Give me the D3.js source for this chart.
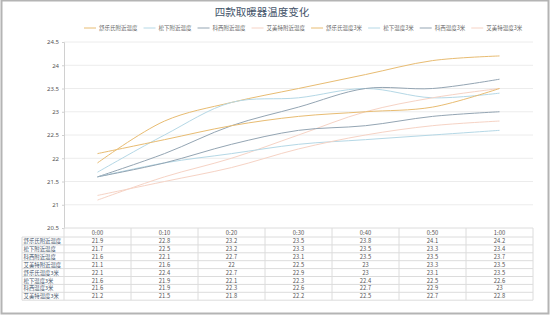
<!DOCTYPE html>
<html lang="zh">
<head>
  <meta charset="UTF-8">
  <title>四款取暖器温度变化</title>
  <script src="https://d3js.org/d3.v7.min.js"></script>
  <style>
    body { margin: 0; padding: 0; background: #fff; font-family: 'Noto Sans CJK SC', 'Noto Sans', sans-serif; }
  </style>
</head>
<body>
  <svg id="chart"></svg>
  <script>
    // data
    const times = ["0:00", "0:10", "0:20", "0:30", "0:40", "0:50", "1:00"];
    const seriesNames = ["舒乐氏附近温度", "松下附近温度", "科西附近温度", "艾美特附近温度",
                         "舒乐氏温度3米", "松下温度3米", "科西温度3米", "艾美特温度3米"];
    const shuleNear = [21.9, 22.8, 23.2, 23.5, 23.8, 24.1, 24.2];
    const songxiaNear = [21.7, 22.5, 23.2, 23.3, 23.5, 23.3, 23.4];
    const kexiNear = [21.6, 22.1, 22.7, 23.1, 23.5, 23.5, 23.7];
    const aimeiteNear = [21.1, 21.6, 22, 22.5, 23, 23.3, 23.5];
    const shule3m = [22.1, 22.4, 22.7, 22.9, 23, 23.1, 23.5];
    const songxia3m = [21.6, 21.9, 22.1, 22.3, 22.4, 22.5, 22.6];
    const kexi3m = [21.6, 21.9, 22.3, 22.6, 22.7, 22.9, 23];
    const aimeite3m = [21.2, 21.5, 21.8, 22.2, 22.5, 22.7, 22.8];
    const yTicks = [20.5, 21, 21.5, 22, 22.5, 23, 23.5, 24, 24.5];

    const values = [shuleNear, songxiaNear, kexiNear, aimeiteNear, shule3m, songxia3m, kexi3m, aimeite3m];
    const colors = ["#e8bc72", "#b5d8e6", "#94a5b3", "#f6d3c5", "#e8bc72", "#b5d8e6", "#94a5b3", "#f6d3c5"];

    const W = 553, H = 319;
    const svg = d3.select("#chart").attr("width", W).attr("height", H);

    // outer frame
    svg.append("rect").attr("x", 1.5).attr("y", 0.5).attr("width", 547).attr("height", 313)
       .attr("fill", "#fff").attr("stroke", "#b4b4b4").attr("stroke-width", 2);

    // title
    svg.append("text").attr("x", 262).attr("y", 16).attr("text-anchor", "middle")
       .attr("font-size", 10.5).attr("fill", "#44546a").text("四款取暖器温度变化");

    const plotLeft = 64, plotRight = 533, plotTop = 42, plotBottom = 228;
    const band = d3.scaleBand().domain(times).range([plotLeft, plotRight]);
    const x = t => band(t) + band.bandwidth() / 2;
    const y = d3.scaleLinear().domain([20.5, 24.5]).range([plotBottom, plotTop]);

    // legend
    const legend = svg.append("g").attr("font-size", 5.5).attr("fill", "#666");
    let lx = 84;
    seriesNames.forEach((name, i) => {
      legend.append("line").attr("x1", lx).attr("x2", lx + 12).attr("y1", 28).attr("y2", 28)
            .attr("stroke", colors[i]).attr("stroke-width", 1);
      const t = legend.append("text").attr("x", lx + 15).attr("y", 30).text(name);
      lx += 15 + t.node().getComputedTextLength() + 6;
    });

    // grid + y axis
    svg.append("g").selectAll("line").data(yTicks.slice(1)).join("line")
       .attr("x1", plotLeft).attr("x2", plotRight).attr("y1", d => y(d)).attr("y2", d => y(d))
       .attr("stroke", "#ececec");
    const yAxis = svg.append("g").attr("transform", `translate(${plotLeft},0)`)
       .call(d3.axisLeft(y).tickValues(yTicks).tickSize(2).tickFormat(d3.format("")));
    yAxis.select(".domain").attr("stroke", "#d0d0d0");
    yAxis.selectAll(".tick line").attr("stroke", "#d0d0d0");
    yAxis.selectAll("text").attr("font-size", 6).attr("fill", "#555").attr("font-family", "'Noto Sans', sans-serif");

    // lines
    const line = d3.line().x((d, i) => x(times[i])).y(d => y(d)).curve(d3.curveCatmullRom.alpha(0.5));
    svg.append("g").selectAll("path").data(values).join("path")
       .attr("d", line).attr("fill", "none")
       .attr("stroke", (d, i) => colors[i]).attr("stroke-width", 1);

    // data table
    const tbl = svg.append("g").attr("font-size", 5.4).attr("fill", "#44546a");
    const headH = 9, rowH = 7.9, labelLeft = 22;
    const rowTop = plotBottom + headH;
    const tableBottom = rowTop + rowH * seriesNames.length;
    const gridColor = "#dcdcdc";
    tbl.append("line").attr("x1", plotLeft).attr("x2", plotRight).attr("y1", plotBottom).attr("y2", plotBottom).attr("stroke", gridColor);
    d3.range(seriesNames.length + 1).forEach(r => {
      tbl.append("line").attr("x1", labelLeft).attr("x2", plotRight)
         .attr("y1", rowTop + r * rowH).attr("y2", rowTop + r * rowH).attr("stroke", gridColor);
    });
    tbl.append("line").attr("x1", labelLeft).attr("x2", labelLeft).attr("y1", rowTop).attr("y2", tableBottom).attr("stroke", gridColor);
    times.forEach(t => {
      tbl.append("line").attr("x1", band(t)).attr("x2", band(t)).attr("y1", plotBottom).attr("y2", tableBottom).attr("stroke", gridColor);
    });
    tbl.append("line").attr("x1", plotRight).attr("x2", plotRight).attr("y1", plotBottom).attr("y2", tableBottom).attr("stroke", gridColor);

    times.forEach(t => {
      tbl.append("text").attr("x", x(t)).attr("y", plotBottom + 7).attr("text-anchor", "middle")
         .attr("fill", "#555").attr("font-size", 5.8).text(t);
    });
    seriesNames.forEach((name, r) => {
      const cy = rowTop + r * rowH + 6;
      tbl.append("text").attr("x", labelLeft + 1.5).attr("y", cy).text(name);
      values[r].forEach((v, c) => {
        tbl.append("text").attr("x", x(times[c])).attr("y", cy).attr("text-anchor", "middle")
           .attr("fill", "#555").attr("font-size", 5.8).text(v);
      });
    });
  </script>
</body>
</html>
